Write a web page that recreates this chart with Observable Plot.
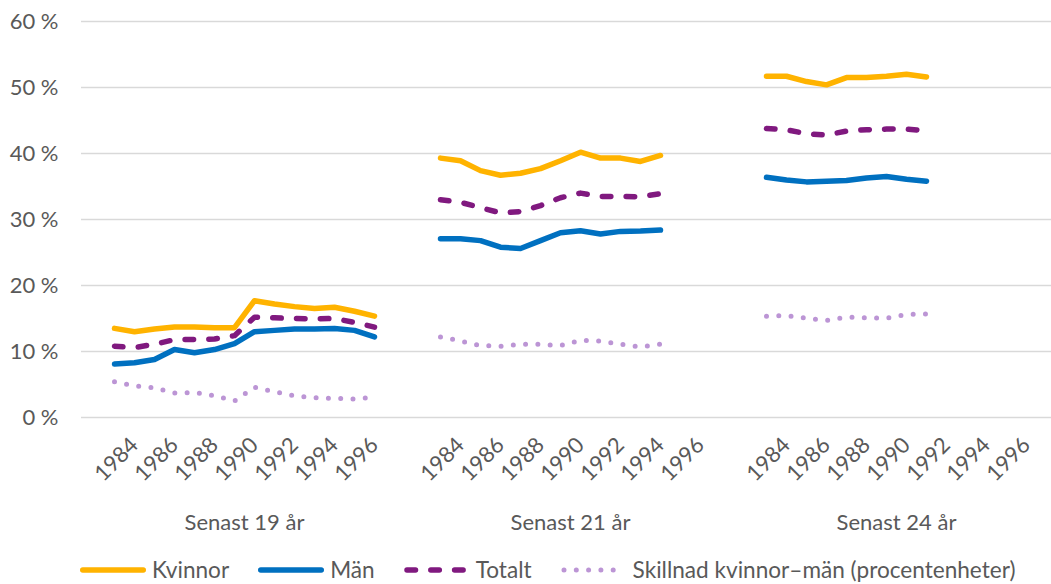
<!DOCTYPE html>
<html>
<head>
<meta charset="utf-8">
<script src="https://cdn.jsdelivr.net/npm/d3@7"></script>
<script src="https://cdn.jsdelivr.net/npm/@observablehq/plot@0.6"></script>
<style>
  html, body { margin: 0; padding: 0; background: #fff; overflow: hidden; }
  body { font-family: Lato, "Open Sans", sans-serif; }
  #legend { height: 28px; line-height: 28px; display: flex; align-items: center; padding-left: 80px; font-size: 22.6px; color: #595959; white-space: nowrap; }
  #legend .item { display: flex; align-items: center; margin-right: 29px; }
  #legend .item svg { margin-right: 6px; display: block; }
</style>
</head>
<body>
<div id="chart"></div>
<div id="legend"></div>
<script>
// ---- Data (percent) ----
const groups = ["Senast 19 år", "Senast 21 år", "Senast 24 år"];

const years19 = [1983, 1984, 1985, 1986, 1987, 1988, 1989, 1990, 1991, 1992, 1993, 1994, 1995, 1996];
const kvinnor19 = [13.5, 13.0, 13.4, 13.7, 13.7, 13.6, 13.6, 17.7, 17.2, 16.8, 16.5, 16.7, 16.1, 15.35];
const man19     = [8.1, 8.3, 8.8, 10.3, 9.8, 10.3, 11.2, 13.0, 13.2, 13.4, 13.4, 13.5, 13.2, 12.2];
const totalt19  = [10.8, 10.6, 11.1, 11.8, 11.8, 11.9, 12.4, 15.2, 15.1, 15.0, 14.95, 15.0, 14.4, 13.7];
const skillnad19 = [5.4, 4.8, 4.5, 3.7, 3.8, 3.3, 2.5, 4.6, 3.9, 3.3, 3.0, 2.9, 2.8, 3.1];

const years21 = [1983, 1984, 1985, 1986, 1987, 1988, 1989, 1990, 1991, 1992, 1993, 1994];
const kvinnor21 = [39.3, 38.9, 37.4, 36.7, 37.0, 37.7, 38.9, 40.2, 39.3, 39.3, 38.8, 39.7];
const man21     = [27.1, 27.1, 26.8, 25.8, 25.6, 26.8, 28.0, 28.3, 27.8, 28.2, 28.25, 28.4];
const totalt21  = [33.0, 32.6, 31.8, 31.0, 31.2, 32.1, 33.3, 34.0, 33.5, 33.5, 33.45, 33.9];
const skillnad21 = [12.2, 11.6, 10.9, 10.8, 11.1, 11.1, 10.9, 11.7, 11.6, 11.1, 10.7, 11.1];

const years24 = [1983, 1984, 1985, 1986, 1987, 1988, 1989, 1990, 1991];
const kvinnor24 = [51.7, 51.7, 50.9, 50.4, 51.5, 51.5, 51.7, 52.0, 51.6];
const man24     = [36.4, 36.0, 35.7, 35.8, 35.9, 36.3, 36.5, 36.1, 35.8];
const totalt24  = [43.8, 43.6, 43.0, 42.8, 43.4, 43.6, 43.7, 43.7, 43.4];
const skillnad24 = [15.35, 15.45, 15.05, 14.7, 15.2, 15.1, 15.05, 15.6, 15.7];

// category slots per group (a blank slot before and after the years)
const xSlots = ["", 1983, 1984, 1985, 1986, 1987, 1988, 1989, 1990, 1991, 1992, 1993, 1994, 1995, 1996, " "];
const xTicks = [1984, 1986, 1988, 1990, 1992, 1994, 1996];
const yTicks = [0, 10, 20, 30, 40, 50, 60];

const seriesNames = ["Kvinnor", "Män", "Totalt", "Skillnad kvinnor–män (procentenheter)"];
const seriesColors = ["#FFB300", "#0070C0", "#80197F", "#BC95D5"];
const seriesDash = [null, null, "8.5 15.3", "0 12.3"];
const seriesWidth = [5.5, 5.5, 5.5, 5];

// ---- Build long table ----
const groupData = [
  [years19, [kvinnor19, man19, totalt19, skillnad19]],
  [years21, [kvinnor21, man21, totalt21, skillnad21]],
  [years24, [kvinnor24, man24, totalt24, skillnad24]]
];
const rows = [];
groupData.forEach(([yrs, series], gi) => {
  series.forEach((vals, si) => {
    vals.forEach((v, i) => rows.push({group: groups[gi], series: seriesNames[si], year: yrs[i], value: v}));
  });
});

const font = "Lato, 'Open Sans', sans-serif";
const lineMarks = seriesNames.map((name, si) => Plot.line(rows.filter(d => d.series === name), {
  fx: "group", x: "year", y: "value", z: "group",
  stroke: seriesColors[si], strokeWidth: seriesWidth[si],
  strokeDasharray: seriesDash[si] ?? undefined,
  strokeLinecap: "round", strokeLinejoin: "round"
}));

const chart = Plot.plot({
  width: 1051,
  height: 556,
  marginTop: 21,
  marginBottom: 139,
  marginLeft: 80,
  marginRight: 0,
  style: {fontFamily: font, fontSize: "22px", color: "#595959", background: "#fff"},
  fx: {domain: groups, range: [80, 1059], padding: 0, axis: null},
  x: {type: "point", domain: xSlots, padding: 0.5, ticks: xTicks, tickFormat: d => String(d), tickSize: 0, tickRotate: -45, tickPadding: 24, label: null},
  y: {domain: [0, 60], ticks: yTicks, tickSize: 0, tickPadding: 23, tickFormat: d => d + " %", label: null},
  marks: [
    Plot.gridY(yTicks, {stroke: "#d9d9d9", strokeOpacity: 1, strokeWidth: 1.3}),
    ...lineMarks,
    Plot.text(groups, {fx: d => d, text: d => d, frameAnchor: "bottom", lineAnchor: "middle", dy: 105, fill: "#595959"})
  ]
});
document.getElementById("chart").appendChild(chart);

// ---- Legend (HTML) ----
const legend = document.getElementById("legend");
seriesNames.forEach((name, si) => {
  const item = document.createElement("div");
  item.className = "item";
  const dash = seriesDash[si] ? `stroke-dasharray="${seriesDash[si]}"` : "";
  const x1 = seriesDash[si] ? 3 : 2.75;
  item.innerHTML = `<svg width="66" height="14"><line x1="${x1}" y1="7" x2="63.25" y2="7" stroke="${seriesColors[si]}" stroke-width="${seriesWidth[si]}" stroke-linecap="round" ${dash}/></svg><span>${name}</span>`;
  legend.appendChild(item);
});
</script>
</body>
</html>
